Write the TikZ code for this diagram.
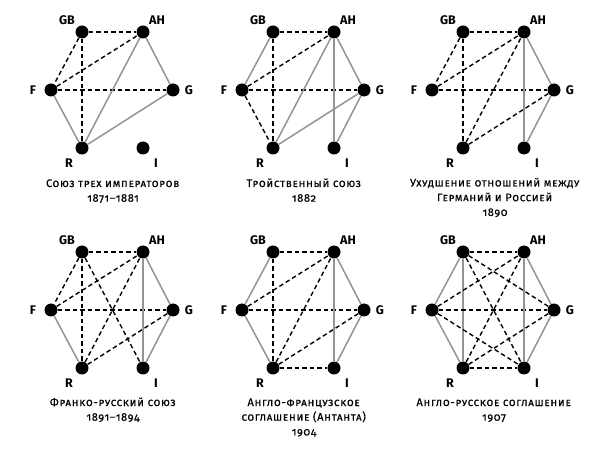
\documentclass[tikz,border=0pt]{standalone}
\usepackage{fontspec}
\setmainfont{Fira Sans}[Numbers=OldStyle]
\newfontfamily\capfont{Fira Sans}[Numbers=OldStyle,LetterSpace=6,FakeBold=0.4]
\begin{document}
\begin{tikzpicture}[x=1pt,y=-1pt]
\tikzset{
  dotnode/.style={circle,fill=black,inner sep=0pt,minimum size=13pt},
  labnode/.style={font=\fontsize{12.5}{13}\selectfont\bfseries,inner sep=0pt},
  captxt/.style={font=\capfont\fontsize{11}{14.7}\selectfont,align=center,inner sep=0pt,anchor=base},
  ally/.style={draw=black!42,line width=1.5pt},
  rival/.style={draw=black,line width=1.4pt,dash pattern=on 4.5pt off 3pt},
}
\newcommand\hexnet[2]{%
  \begin{scope}[shift={#2}]
    \node[dotnode] (#1GB) at (0,0) {};
    \node[dotnode] (#1AH) at (61,0) {};
    \node[dotnode] (#1F) at (-31,58) {};
    \node[dotnode] (#1G) at (91,58) {};
    \node[dotnode] (#1R) at (0,116) {};
    \node[dotnode] (#1I) at (61,116) {};
    \node[labnode] (#1GBl) at (-15,-12) {GB};
    \node[labnode] (#1AHl) at (75,-12) {AH};
    \node[labnode] (#1Fl) at (-49,58) {F};
    \node[labnode] (#1Gl) at (107,58) {G};
    \node[labnode] (#1Rl) at (-13,131) {R};
    \node[labnode] (#1Il) at (74,131) {I};
  \end{scope}}
\useasboundingbox (0,0) rectangle (600,454);
\fill[white] (0,0) rectangle (600,454);
% diagram 1
\hexnet{a}{(82,32)}
\node[captxt] (acap) at (113,201.7) {\textsc{Союз трех императоров}\\1871–1881};
\draw[rival] (aGB) -- (aAH);
\draw[rival] (aGB) -- (aF);
\draw[rival] (aGB) -- (aR);
\draw[rival] (aF) -- (aAH);
\draw[rival] (aF) -- (aG);
\draw[ally] (aF) -- (aR);
\draw[ally] (aR) -- (aAH);
\draw[ally] (aR) -- (aG);
\draw[ally] (aAH) -- (aG);
% diagram 2
\hexnet{b}{(273,32)}
\node[captxt] (bcap) at (304,201.7) {\textsc{Тройственный союз}\\1882};
\draw[rival] (bGB) -- (bAH);
\draw[ally] (bGB) -- (bF);
\draw[rival] (bGB) -- (bR);
\draw[rival] (bF) -- (bAH);
\draw[rival] (bF) -- (bG);
\draw[rival] (bF) -- (bR);
\draw[ally] (bR) -- (bAH);
\draw[ally] (bR) -- (bG);
\draw[ally] (bAH) -- (bG);
\draw[ally] (bAH) -- (bI);
\draw[ally] (bG) -- (bI);
% diagram 3
\hexnet{c}{(463,32)}
\node[captxt] (ccap) at (495,215.9) {\textsc{Ухудшение отношений между}\\\textsc{Германий и Россией}\\1890};
\draw[rival] (cGB) -- (cAH);
\draw[rival] (cGB) -- (cF);
\draw[rival] (cGB) -- (cR);
\draw[rival] (cF) -- (cAH);
\draw[rival] (cF) -- (cG);
\draw[rival] (cR) -- (cAH);
\draw[rival] (cR) -- (cG);
\draw[ally] (cAH) -- (cG);
\draw[ally] (cAH) -- (cI);
\draw[ally] (cG) -- (cI);
% diagram 4
\hexnet{d}{(82,252)}
\node[captxt] (dcap) at (113,420.7) {\textsc{Франко-русский союз}\\1891–1894};
\draw[rival] (dGB) -- (dAH);
\draw[rival] (dGB) -- (dF);
\draw[rival] (dGB) -- (dR);
\draw[rival] (dGB) -- (dI);
\draw[rival] (dF) -- (dAH);
\draw[rival] (dF) -- (dG);
\draw[ally] (dF) -- (dR);
\draw[rival] (dR) -- (dAH);
\draw[rival] (dR) -- (dG);
\draw[ally] (dAH) -- (dG);
\draw[ally] (dAH) -- (dI);
\draw[ally] (dG) -- (dI);
% diagram 5
\hexnet{e}{(273,252)}
\node[captxt] (ecap) at (304,435.4) {\textsc{Англо-французское}\\\textsc{соглашение (Антанта)}\\1904};
\draw[rival] (eGB) -- (eAH);
\draw[ally] (eGB) -- (eF);
\draw[rival] (eGB) -- (eR);
\draw[rival] (eF) -- (eAH);
\draw[rival] (eF) -- (eG);
\draw[ally] (eF) -- (eR);
\draw[rival] (eR) -- (eAH);
\draw[rival] (eR) -- (eG);
\draw[rival] (eR) -- (eI);
\draw[ally] (eAH) -- (eG);
\draw[ally] (eAH) -- (eI);
\draw[ally] (eG) -- (eI);
% diagram 6
\hexnet{f}{(463,252)}
\node[captxt] (fcap) at (494,420.7) {\textsc{Англо-русское соглашение}\\1907};
\draw[rival] (fGB) -- (fAH);
\draw[ally] (fGB) -- (fF);
\draw[ally] (fGB) -- (fR);
\draw[rival] (fGB) -- (fG);
\draw[rival] (fGB) -- (fI);
\draw[rival] (fF) -- (fAH);
\draw[rival] (fF) -- (fG);
\draw[ally] (fF) -- (fR);
\draw[rival] (fF) -- (fI);
\draw[rival] (fR) -- (fAH);
\draw[rival] (fR) -- (fG);
\draw[rival] (fR) -- (fI);
\draw[ally] (fAH) -- (fG);
\draw[ally] (fAH) -- (fI);
\draw[ally] (fG) -- (fI);
\end{tikzpicture}
\end{document}
